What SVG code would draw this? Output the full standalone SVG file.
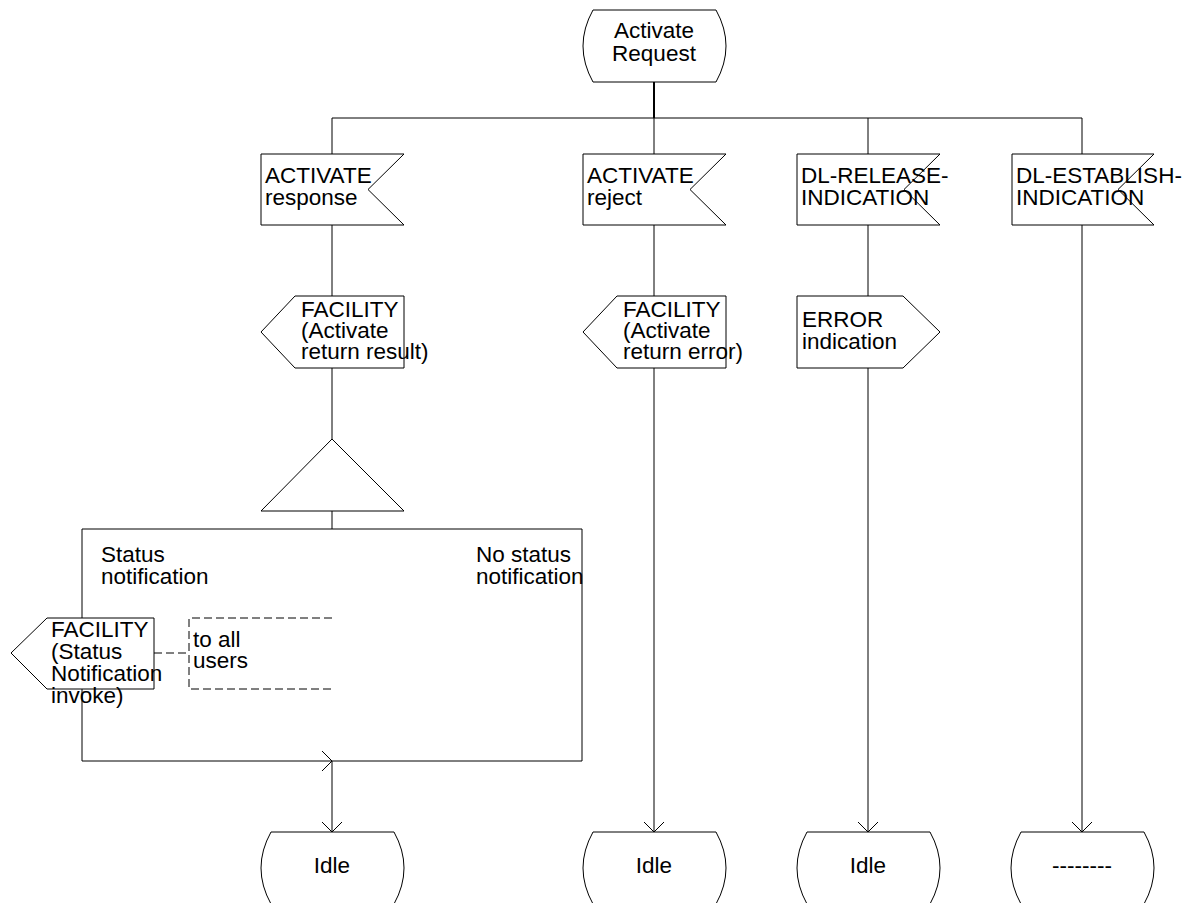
<svg xmlns="http://www.w3.org/2000/svg" width="1189" height="903" viewBox="0 0 1189 903">
<style>
.s{fill:#fff;stroke:#000;stroke-width:1}
.o{fill:none;stroke:#000;stroke-width:1}
.c{fill:none;stroke:#000;stroke-width:1}
.t{fill:none;stroke:#000;stroke-width:2}
.d{fill:none;stroke:#000;stroke-width:1;stroke-dasharray:8,4}
text{font-family:"Liberation Sans",Arial,sans-serif;font-size:22.5px;fill:#000}
.m{text-anchor:middle}
</style>
<defs>
<marker id="ah" viewBox="0 0 10 20" refX="10" refY="10" markerWidth="10" markerHeight="20" markerUnits="userSpaceOnUse" orient="auto">
<path d="M0,0 L10,10 L0,20" fill="none" stroke="#000" stroke-width="1"/>
</marker>
</defs>
<g id="connectors">
<line x1="654" y1="82" x2="654" y2="118" class="t"/>
<line x1="332" y1="118" x2="1082" y2="118" class="c"/>
<line x1="332" y1="118" x2="332" y2="154" class="c"/>
<line x1="654" y1="118" x2="654" y2="154" class="c"/>
<line x1="868" y1="118" x2="868" y2="154" class="c"/>
<line x1="1082" y1="118" x2="1082" y2="154" class="c"/>
<line x1="332" y1="225" x2="332" y2="296" class="c"/>
<line x1="654" y1="225" x2="654" y2="296" class="c"/>
<line x1="868" y1="225" x2="868" y2="296" class="c"/>
<line x1="332" y1="368" x2="332" y2="439" class="c"/>
<line x1="332" y1="511" x2="332" y2="529" class="c"/>
<path d="M82,761 L82,529 L582,529 L582,761 L332,761" class="c"/>
<line x1="82" y1="761" x2="332" y2="761" class="c" marker-end="url(#ah)"/>
<line x1="332" y1="761" x2="332" y2="832" class="c" marker-end="url(#ah)"/>
<line x1="654" y1="368" x2="654" y2="832" class="c" marker-end="url(#ah)"/>
<line x1="868" y1="368" x2="868" y2="832" class="c" marker-end="url(#ah)"/>
<line x1="1082" y1="225" x2="1082" y2="832" class="c" marker-end="url(#ah)"/>
<line x1="154" y1="653" x2="189" y2="653" class="d"/>
</g>
<g id="start">
<path d="M593,10 L716,10 Q736,46 716,82 L593,82 Q573,46 593,10 Z" class="s"/>
<text x="654" y="38" class="m">Activate</text>
<text x="654" y="61" class="m">Request</text>
</g>
<g id="in-activate-response">
<polygon points="261,154 404,154 368,189.5 404,225 261,225" class="s"/>
<text x="265" y="183">ACTIVATE</text>
<text x="265" y="205">response</text>
</g>
<g id="in-activate-reject">
<polygon points="583,154 726,154 690,189.5 726,225 583,225" class="s"/>
<text x="587" y="183">ACTIVATE</text>
<text x="587" y="205">reject</text>
</g>
<g id="in-dl-release">
<polygon points="797,154 940,154 904,189.5 940,225 797,225" class="o"/>
<text x="801" y="183">DL-RELEASE-</text>
<text x="801" y="205">INDICATION</text>
</g>
<g id="in-dl-establish">
<polygon points="1012,154 1154,154 1118,189.5 1154,225 1012,225" class="o"/>
<text x="1016" y="183">DL-ESTABLISH-</text>
<text x="1016" y="205">INDICATION</text>
</g>
<g id="out-facility-result">
<polygon points="261,332 295,296 404,296 404,368 295,368" class="s"/>
<text x="301" y="317">FACILITY</text>
<text x="301" y="338">(Activate</text>
<text x="301" y="359">return result)</text>
</g>
<g id="out-facility-error">
<polygon points="583,332 617,296 726,296 726,368 617,368" class="s"/>
<text x="623" y="317">FACILITY</text>
<text x="623" y="338">(Activate</text>
<text x="623" y="359">return error)</text>
</g>
<g id="out-error-indication">
<polygon points="797,296 903,296 940,332 903,368 797,368" class="s"/>
<text x="802" y="327">ERROR</text>
<text x="802" y="349">indication</text>
</g>
<g id="decision">
<polygon points="332,439 261,511 404,511" class="s"/>
</g>
<g id="answer-status">
<text x="101" y="562">Status</text>
<text x="101" y="584">notification</text>
</g>
<g id="answer-no-status">
<text x="476" y="562">No status</text>
<text x="476" y="584">notification</text>
</g>
<g id="out-facility-status">
<polygon points="11,653 47,618 154,618 154,689 47,689" class="s"/>
<text x="51" y="637">FACILITY</text>
<text x="51" y="659">(Status</text>
<text x="51" y="681">Notification</text>
<text x="51" y="703">invoke)</text>
</g>
<g id="comment">
<path d="M332,618 L189,618 L189,689 L332,689" class="d"/>
<text x="193" y="647">to all</text>
<text x="193" y="668">users</text>
</g>
<g id="idle-1">
<path d="M271,832 L394,832 Q414,868 394,904 L271,904 Q251,868 271,832 Z" class="s"/>
<text x="332" y="873" class="m">Idle</text>
</g>
<g id="idle-2">
<path d="M593,832 L716,832 Q736,868 716,904 L593,904 Q573,868 593,832 Z" class="s"/>
<text x="654" y="873" class="m">Idle</text>
</g>
<g id="idle-3">
<path d="M807,832 L930,832 Q950,868 930,904 L807,904 Q787,868 807,832 Z" class="s"/>
<text x="868" y="873" class="m">Idle</text>
</g>
<g id="state-4">
<path d="M1021,832 L1144,832 Q1164,868 1144,904 L1021,904 Q1001,868 1021,832 Z" class="s"/>
<text x="1082" y="873" class="m">--------</text>
</g>
</svg>
